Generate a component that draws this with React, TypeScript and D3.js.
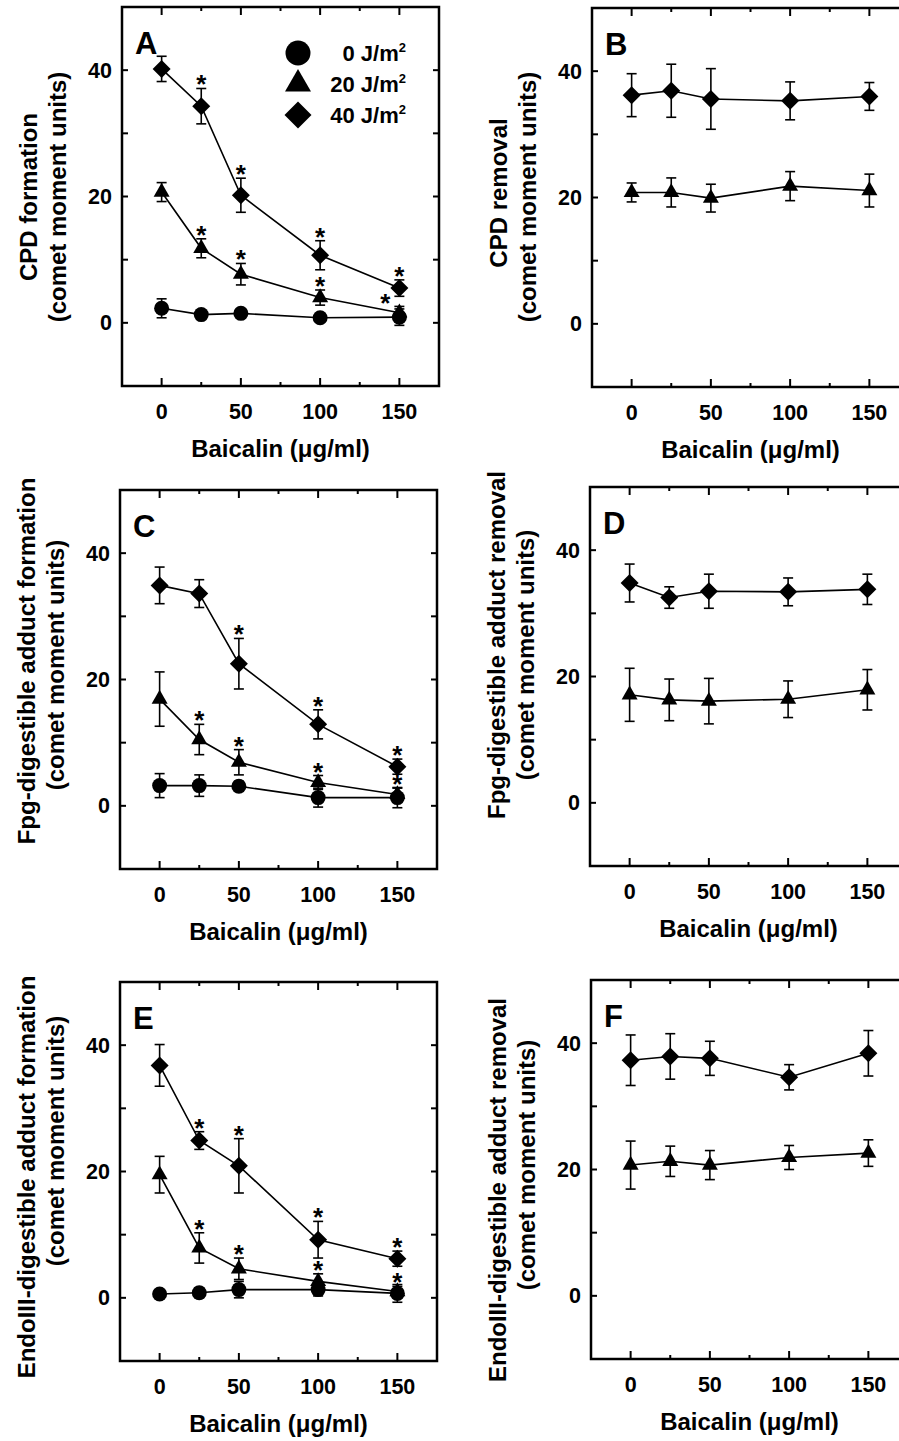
import React from 'react'
import * as d3 from 'd3'

// Baicalin doses (x) shared by every panel
const doses = [0, 25, 50, 100, 150]
const xTickValues = [0, 50, 100, 150]
const xMinorValues = [25, 75, 125]
const yTickValues = [0, 20, 40]
const yMinorValues = [10, 30]
const legendDoses = ['0', '20', '40']

// A: CPD formation
const aCircle = [2.3, 1.3, 1.5, 0.8, 0.9]
const aCircleErr = [1.5, 0.5, 0.6, 0.6, 1.3]
const aTriangle = [20.7, 11.8, 7.7, 4.0, 1.6]
const aTriangleErr = [1.5, 1.5, 1.7, 1.2, 1.0]
const aTriangleStars = ['', 'up', 'up', 'up', 'left']
const aDiamond = [40.2, 34.3, 20.2, 10.7, 5.5]
const aDiamondErr = [2.0, 2.8, 2.7, 2.3, 1.3]
const aDiamondStars = ['', 'up', 'up', 'up', 'up']

// B: CPD removal
const bTriangle = [20.8, 20.8, 19.9, 21.8, 21.1]
const bTriangleErr = [1.5, 2.3, 2.2, 2.3, 2.6]
const bDiamond = [36.2, 36.9, 35.6, 35.3, 36.0]
const bDiamondErr = [3.4, 4.2, 4.8, 3.0, 2.2]

// C: Fpg-digestible adduct formation
const cCircle = [3.2, 3.2, 3.1, 1.3, 1.3]
const cCircleErr = [1.9, 1.7, 0.8, 1.5, 1.6]
const cTriangle = [16.9, 10.5, 6.9, 3.7, 1.8]
const cTriangleErr = [4.3, 2.4, 2.0, 1.1, 1.0]
const cTriangleStars = ['', 'up', 'up', 'up', 'up']
const cDiamond = [34.9, 33.6, 22.5, 12.9, 6.2]
const cDiamondErr = [2.9, 2.2, 4.0, 2.3, 1.2]
const cDiamondStars = ['', '', 'up', 'up', 'up']

// D: Fpg-digestible adduct removal
const dTriangle = [17.1, 16.3, 16.1, 16.4, 17.9]
const dTriangleErr = [4.2, 3.3, 3.6, 2.9, 3.2]
const dDiamond = [34.8, 32.5, 33.5, 33.4, 33.8]
const dDiamondErr = [3.0, 1.7, 2.7, 2.2, 2.4]

// E: EndoIII-digestible adduct formation
const eCircle = [0.6, 0.8, 1.3, 1.3, 0.7]
const eCircleErr = [0.5, 0.8, 1.3, 1.0, 1.4]
const eTriangle = [19.5, 7.9, 4.6, 2.6, 1.0]
const eTriangleErr = [2.9, 2.4, 1.7, 1.2, 0.8]
const eTriangleStars = ['', 'up', 'up', 'up', 'up']
const eDiamond = [36.8, 24.9, 20.9, 9.2, 6.2]
const eDiamondErr = [3.3, 1.4, 4.3, 2.9, 1.2]
const eDiamondStars = ['', 'up', 'up', 'up', 'up']

// F: EndoIII-digestible adduct removal
const fTriangle = [20.7, 21.3, 20.7, 21.9, 22.6]
const fTriangleErr = [3.8, 2.4, 2.3, 1.9, 2.1]
const fDiamond = [37.3, 37.9, 37.6, 34.6, 38.4]
const fDiamondErr = [4.0, 3.6, 2.7, 2.0, 3.6]

const FONT = '"Liberation Sans", Arial, Helvetica, sans-serif'
const PW = 317
const PH = 379

type Shape = 'circle' | 'triangle' | 'diamond'
type Series = { shape: Shape; values: number[]; errors: number[]; stars?: string[] }

function Marker({ shape, x, y, size }: { shape: Shape; x: number; y: number; size: number }) {
  if (shape === 'circle') return <circle cx={x} cy={y} r={size / 2} fill="#000" />
  if (shape === 'diamond') {
    const h = size / 2 + 1
    return <path d={`M${x},${y - h}L${x + h},${y}L${x},${y + h}L${x - h},${y}Z`} fill="#000" />
  }
  const s = size + 1
  const hh = (s * Math.sqrt(3)) / 2
  return (
    <path
      d={`M${x},${y - (hh * 2) / 3}L${x + s / 2},${y + hh / 3}L${x - s / 2},${y + hh / 3}Z`}
      fill="#000"
    />
  )
}

function Panel(props: {
  letter: string
  left: number
  top: number
  series: Series[]
  title: string[]
  titleCenters: number[]
  legend?: boolean
}) {
  const { letter, left, top, series, title, titleCenters, legend } = props
  const x = d3.scaleLinear().domain([-25, 175]).range([0, PW])
  const y = d3.scaleLinear().domain([-10, 50]).range([PH, 0])
  const line = d3
    .line<number>()
    .x((_, i) => x(doses[i]))
    .y((v) => y(v))

  return (
    <g transform={`translate(${left},${top})`} fontFamily={FONT} fontWeight="bold">
      {/* frame */}
      <rect x={0} y={0} width={PW} height={PH} fill="none" stroke="#000" strokeWidth={2.5} />
      {/* x ticks, top and bottom */}
      {xTickValues.map((t) => (
        <g key={'xt' + t}>
          <line x1={x(t)} x2={x(t)} y1={PH} y2={PH - 8} stroke="#000" strokeWidth={2} />
          <line x1={x(t)} x2={x(t)} y1={0} y2={8} stroke="#000" strokeWidth={2} />
          <text x={x(t)} y={PH + 33} textAnchor="middle" fontSize={21.5}>
            {t}
          </text>
        </g>
      ))}
      {xMinorValues.map((t) => (
        <g key={'xm' + t}>
          <line x1={x(t)} x2={x(t)} y1={PH} y2={PH - 4} stroke="#000" strokeWidth={2} />
          <line x1={x(t)} x2={x(t)} y1={0} y2={4} stroke="#000" strokeWidth={2} />
        </g>
      ))}
      {/* y ticks, left and right */}
      {yTickValues.concat(yMinorValues).map((t) => (
        <g key={'yt' + t}>
          <line x1={0} x2={6} y1={y(t)} y2={y(t)} stroke="#000" strokeWidth={2} />
          <line x1={PW} x2={PW - 6} y1={y(t)} y2={y(t)} stroke="#000" strokeWidth={2} />
        </g>
      ))}
      {yTickValues.map((t) => (
        <text key={'yl' + t} x={-10} y={y(t) + 7.5} textAnchor="end" fontSize={21.5}>
          {t}
        </text>
      ))}
      {/* axis titles */}
      <text x={PW / 2} y={PH + 71} textAnchor="middle" fontSize={24}>
        Baicalin (μg/ml)
      </text>
      {title.map((t, i) => (
        <text
          key={'yt' + i}
          transform={`translate(${i === 0 ? -94 : -65},${titleCenters[i]}) rotate(-90)`}
          textAnchor="middle"
          dominantBaseline="central"
          fontSize={24}
        >
          {t}
        </text>
      ))}
      <text x={13} y={47} fontSize={31}>
        {letter}
      </text>
      {/* data */}
      {series.map((s, si) => (
        <g key={'s' + si}>
          <path d={line(s.values) || ''} fill="none" stroke="#000" strokeWidth={1.6} />
          {s.values.map((v, i) => {
            const cx = x(doses[i])
            const hi = y(v + s.errors[i])
            const lo = y(v - s.errors[i])
            return (
              <g key={i}>
                <line x1={cx} x2={cx} y1={hi} y2={lo} stroke="#000" strokeWidth={1.6} />
                <line x1={cx - 5} x2={cx + 5} y1={hi} y2={hi} stroke="#000" strokeWidth={1.6} />
                <line x1={cx - 5} x2={cx + 5} y1={lo} y2={lo} stroke="#000" strokeWidth={1.6} />
              </g>
            )
          })}
          {s.values.map((v, i) => (
            <Marker key={'m' + i} shape={s.shape} x={x(doses[i])} y={y(v)} size={s.shape === 'diamond' ? 16 : 15} />
          ))}
          {(s.stars || []).map((st, i) => {
            if (!st) return null
            const cx = x(doses[i]) - (st === 'left' ? 14 : 0)
            const hi = y(s.values[i] + s.errors[i])
            return (
              <text key={'st' + i} x={cx} y={st === 'left' ? hi + 6 : hi + 5} textAnchor="middle" fontSize={26}>
                *
              </text>
            )
          })}
        </g>
      ))}
      {legend &&
        legendDoses.map((d, i) => {
          const shape: Shape = (['circle', 'triangle', 'diamond'] as Shape[])[i]
          const ly = 46 + i * 31
          return (
            <g key={'lg' + d}>
              <Marker shape={shape} x={176} y={ly} size={25} />
              <text x={284} y={ly + 8} textAnchor="end" fontSize={22}>
                {d} J/m
                <tspan dy={-9} fontSize={13}>
                  2
                </tspan>
              </text>
            </g>
          )
        })}
    </g>
  )
}

export default function App() {
  return (
    <svg
      width={899}
      height={1441}
      style={{ position: 'absolute', left: 0, top: 0, background: '#fff' }}
    >
      <rect width={899} height={1441} fill="#fff" />
      <Panel
        letter="A"
        left={122}
        top={7}
        legend
        title={['CPD formation', '(comet moment units)']}
        titleCenters={[190, 190]}
        series={[
          { shape: 'circle', values: aCircle, errors: aCircleErr },
          { shape: 'triangle', values: aTriangle, errors: aTriangleErr, stars: aTriangleStars },
          { shape: 'diamond', values: aDiamond, errors: aDiamondErr, stars: aDiamondStars },
        ]}
      />
      <Panel
        letter="B"
        left={592}
        top={8}
        title={['CPD removal', '(comet moment units)']}
        titleCenters={[185, 189]}
        series={[
          { shape: 'triangle', values: bTriangle, errors: bTriangleErr },
          { shape: 'diamond', values: bDiamond, errors: bDiamondErr },
        ]}
      />
      <Panel
        letter="C"
        left={120}
        top={490}
        title={['Fpg-digestible adduct formation', '(comet moment units)']}
        titleCenters={[171, 175]}
        series={[
          { shape: 'circle', values: cCircle, errors: cCircleErr },
          { shape: 'triangle', values: cTriangle, errors: cTriangleErr, stars: cTriangleStars },
          { shape: 'diamond', values: cDiamond, errors: cDiamondErr, stars: cDiamondStars },
        ]}
      />
      <Panel
        letter="D"
        left={590}
        top={487}
        title={['Fpg-digestible adduct removal', '(comet moment units)']}
        titleCenters={[158, 168]}
        series={[
          { shape: 'triangle', values: dTriangle, errors: dTriangleErr },
          { shape: 'diamond', values: dDiamond, errors: dDiamondErr },
        ]}
      />
      <Panel
        letter="E"
        left={120}
        top={982}
        title={['EndoIII-digestible adduct formation', '(comet moment units)']}
        titleCenters={[195, 159]}
        series={[
          { shape: 'circle', values: eCircle, errors: eCircleErr },
          { shape: 'triangle', values: eTriangle, errors: eTriangleErr, stars: eTriangleStars },
          { shape: 'diamond', values: eDiamond, errors: eDiamondErr, stars: eDiamondStars },
        ]}
      />
      <Panel
        letter="F"
        left={591}
        top={980}
        title={['EndoIII-digestible adduct removal', '(comet moment units)']}
        titleCenters={[210, 185]}
        series={[
          { shape: 'triangle', values: fTriangle, errors: fTriangleErr },
          { shape: 'diamond', values: fDiamond, errors: fDiamondErr },
        ]}
      />
    </svg>
  )
}
